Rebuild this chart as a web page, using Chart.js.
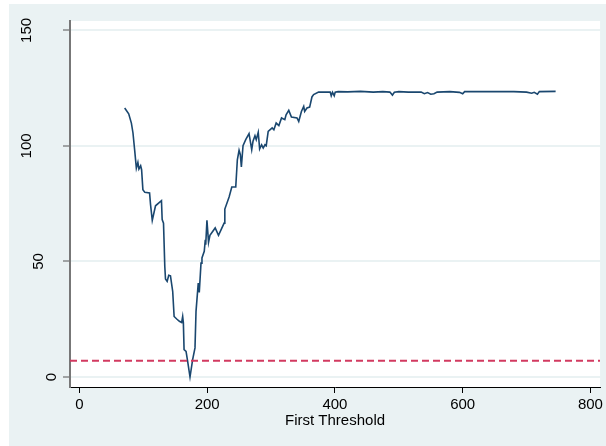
<!DOCTYPE html>
<html><head><meta charset="utf-8">
<script src="https://cdn.jsdelivr.net/npm/chart.js@4"></script>
<style>
html,body{margin:0;padding:0;background:#fff;width:606px;height:446px;overflow:hidden}
#wrap{position:absolute;left:9px;top:4px;width:597px;height:442px}
</style></head><body>
<div id="wrap"><canvas id="c" width="597" height="442"></canvas></div>
<script>
const thresholdX = [70.8,77.1,81.3,83.8,86.4,89.1,91.5,93.1,95.8,97.3,99.3,102.4,109.8,111.3,114,119.1,128.4,129.5,131.6,133.6,134.7,137.3,139.8,142.5,146,148.2,152.3,156.5,160,161.6,162.7,163.8,166.9,169.4,173.1,177.2,180.9,182.5,186,187.6,190.3,191.8,195.4,197,197.7,199.6,202.1,204.3,212.5,217.7,226.5,227.6,234.3,238.5,244.7,247.2,249.9,251.9,253.5,256.1,260.3,265.5,269.7,271.7,274.8,276.8,279.9,282.1,285.2,287.7,290.4,292.4,295.5,301.7,304.4,308,312.2,316.4,321.5,323.5,327.7,331.9,340.6,343.3,347.5,351.1,352.6,356.2,360.4,364,366.6,374.4,392.6,394.2,396.2,398.9,400.4,405,420,440,460,475,486,490,493,500,515,535,540,545,550,555,560,580,595,600,603,640,680,700,708,712,717,720,745.5];
const objectiveY = [116.4,113.9,109.9,105.6,98.3,90.4,92.9,90.0,91.4,89.7,81.1,79.9,79.6,74.6,67.8,74.1,76.3,68.1,66.6,47.9,42.4,41.4,44.0,43.8,37.0,26.2,25.1,24.1,23.6,26.2,23.4,11.8,11.1,6.8,0,7.5,12.6,28.4,40.7,36.6,49.3,51.5,54.4,59.4,57.3,67.8,58.3,61.3,64.5,61.3,66.6,72.7,77.9,82.2,82.2,94.0,98.1,96.2,90.9,100.1,102.7,105.3,98.4,102,104.4,102.7,105.9,98.7,100.5,99.1,100.5,100.1,106.3,107.8,107,109.9,108.8,112.1,111.4,113.5,115.4,112.5,112.1,110.6,114.9,117.1,114.9,116.4,116.8,121.2,122.2,123.3,123.3,121.7,123.2,121.7,123.3,123.5,123.4,123.6,123.3,123.5,123.3,122.0,123.2,123.5,123.3,123.3,122.6,123.1,122.4,122.6,123.3,123.5,123.2,122.6,123.5,123.5,123.5,123.3,122.8,123.2,122.4,123.5,123.6];
const cutoffLevel = 7;
const xTickValues = [0,200,400,600,800];
const yTickValues = [0,50,100,150];
const xAxisTitle = 'First Threshold';
const X_MIN = -14.8, X_MAX = 815.1, Y_MIN = -4.33, Y_MAX = 154.07;

const FONT = 'Liberation Sans, Arial, sans-serif';
const bgPlugin = {
  id: 'bg',
  beforeDraw(chart) {
    const {ctx, chartArea: a, width, height} = chart;
    ctx.save();
    ctx.fillStyle = '#EAF2F3';
    ctx.fillRect(0, 0, width, height);
    ctx.fillStyle = '#FFFFFF';
    ctx.fillRect(a.left, a.top, a.right - a.left, a.bottom - a.top);
    ctx.restore();
  }
};
const yLabelPlugin = {
  id: 'ylabels',
  afterDraw(chart) {
    const {ctx} = chart;
    const ys = chart.scales.y;
    ctx.save();
    ctx.font = '15px ' + FONT;
    ctx.fillStyle = '#000';
    ctx.textAlign = 'center';
    ctx.textBaseline = 'middle';
    yTickValues.forEach(v => {
      const s = String(v);
      const cx = 42.5 - 12.5 * (s.length - 1);
      const cy = ys.getPixelForValue(v);
      ctx.save();
      ctx.translate(cx, cy);
      ctx.rotate(-Math.PI / 2);
      ctx.fillText(s, 0, 0);
      ctx.restore();
    });
    ctx.restore();
  }
};

const pts = thresholdX.map((x, i) => ({x, y: objectiveY[i]}));
new Chart(document.getElementById('c'), {
  type: 'line',
  data: {
    datasets: [
      {data: pts, borderColor: '#1A476F', borderWidth: 1.6, pointRadius: 0, tension: 0, fill: false, order: 2},
      {data: [{x: X_MIN, y: cutoffLevel}, {x: X_MAX, y: cutoffLevel}], borderColor: '#D23A60', borderDash: [7, 4], borderWidth: 2, pointRadius: 0, fill: false, order: 1}
    ]
  },
  options: {
    responsive: false, animation: false, devicePixelRatio: 1,
    layout: {padding: {left: 0, right: 3, top: 17, bottom: 0}},
    plugins: {legend: {display: false}, tooltip: {enabled: false}},
    scales: {
      x: {
        type: 'linear', min: X_MIN, max: X_MAX,
        afterBuildTicks: s => { s.ticks = xTickValues.map(v => ({value: v})); },
        afterFit: s => { s.height = 59; },
        grid: {drawOnChartArea: false, drawTicks: true, tickLength: 6, tickColor: '#000', tickWidth: 1},
        border: {color: '#000', width: 1},
        ticks: {font: {family: FONT, size: 15}, color: '#000', maxRotation: 0, autoSkip: false, padding: 3},
        title: {display: true, text: xAxisTitle, font: {family: FONT, size: 15}, color: '#000', padding: {top: 0, bottom: 16}}
      },
      y: {
        type: 'linear', min: Y_MIN, max: Y_MAX,
        afterBuildTicks: s => { s.ticks = yTickValues.map(v => ({value: v})); },
        afterFit: s => { s.width = 61; },
        grid: {color: '#EAF2F3', lineWidth: 2, drawTicks: true, tickLength: 7, tickColor: '#555', tickWidth: 1},
        border: {color: '#777', width: 2},
        ticks: {display: false}
      }
    }
  },
  plugins: [bgPlugin, yLabelPlugin]
});
</script>
</body></html>
